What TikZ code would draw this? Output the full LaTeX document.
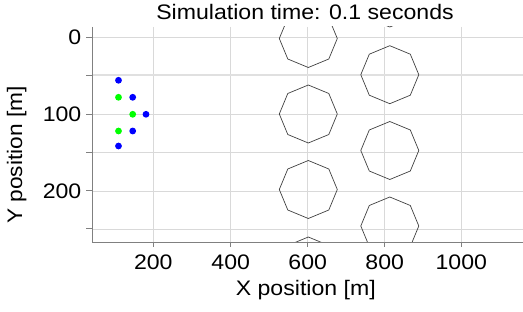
\documentclass[tikz,border=0pt]{standalone}
\usepackage{fontspec}
\setmainfont{Liberation Sans}
\begin{document}
\begin{tikzpicture}[x=1pt,y=-1pt,
  lbl/.style={inner sep=0pt, font=\fontsize{21}{25}\selectfont},
  gridline/.style={draw=black!15, line width=0.8pt},
  axisline/.style={draw=black!50, line width=1pt},
  obst/.style={draw=black!75, line width=0.7pt},
  bluedot/.style={fill=blue},
  greendot/.style={fill=green}]
\useasboundingbox (0,0) rectangle (523,312);
% grid
\foreach \gx in {153.3,230.7,307.7,384.7,461.3}
  \draw[gridline] (\gx,27) -- (\gx,242.7);
\foreach \gy in {37.3,114.3,152.7,191,229}
  \draw[gridline] (92,\gy) -- (523,\gy);
\draw[draw=black!12, line width=2pt] (92,75.3) -- (523,75.3);
% obstacles
\begin{scope}
\clip (92,27) rectangle (523,242.7);
\foreach \cx/\cy in {308.3/38.5,308.3/114,308.3/189.5,308.3/266,389.8/-2,389.8/74.7,389.8/150.5,389.8/226}
  \draw[obst,shift={(\cx,\cy)}] (0:29) -- (45:29) -- (90:29) -- (135:29) -- (180:29) -- (225:29) -- (270:29) -- (315:29) -- cycle;
\end{scope}
% axes
\draw[axisline] (92,27) -- (92,242.7) -- (523,242.7);
\foreach \gy in {37.3,75.3,114.3,152.7,191,229}
  \draw[axisline] (86,\gy) -- (92,\gy);
\foreach \gx in {153.3,230.7,307.7,384.7,461.3}
  \draw[axisline] (\gx,242.7) -- (\gx,247.5);
% vehicles
\foreach \px/\py/\st [count=\i] in {118.5/80.3/bluedot,118.5/97.3/greendot,132.7/97.3/bluedot,132.7/114.3/greendot,146/114.3/bluedot,118.5/131/greendot,132.7/131/bluedot,118.5/146/bluedot}
  \fill[\st] (\px,\py) circle (3.4);
% tick labels
\node[lbl, anchor=base] (x200) at (153.3,270) {\scalebox{1.1}[1]{200}};
\node[lbl, anchor=base] (x400) at (230.7,270) {\scalebox{1.1}[1]{400}};
\node[lbl, anchor=base] (x600) at (307.7,270) {\scalebox{1.1}[1]{600}};
\node[lbl, anchor=base] (x800) at (384.7,270) {\scalebox{1.1}[1]{800}};
\node[lbl, anchor=base] (x1000) at (461.3,270) {\scalebox{1.1}[1]{1000}};
\node[lbl, anchor=base east] (y0) at (81.5,44.8) {\scalebox{1.1}[1]{0}};
\node[lbl, anchor=base east] (y100) at (81.5,121.8) {\scalebox{1.1}[1]{100}};
\node[lbl, anchor=base east] (y200) at (81.5,198.5) {\scalebox{1.1}[1]{200}};
% axis labels and title
\node[lbl, anchor=base] (xlabel) at (305.8,295.5) {\scalebox{1.1}[1]{X position [m]}};
\node[lbl, anchor=base, rotate=90] (ylabel) at (22,155) {\scalebox{1.08}[1]{Y position [m]}};
\node[lbl, anchor=base] (title) at (305,19.3) {\scalebox{1.1}[1]{Simulation time: 0.1 seconds}};
\end{tikzpicture}
\end{document}
